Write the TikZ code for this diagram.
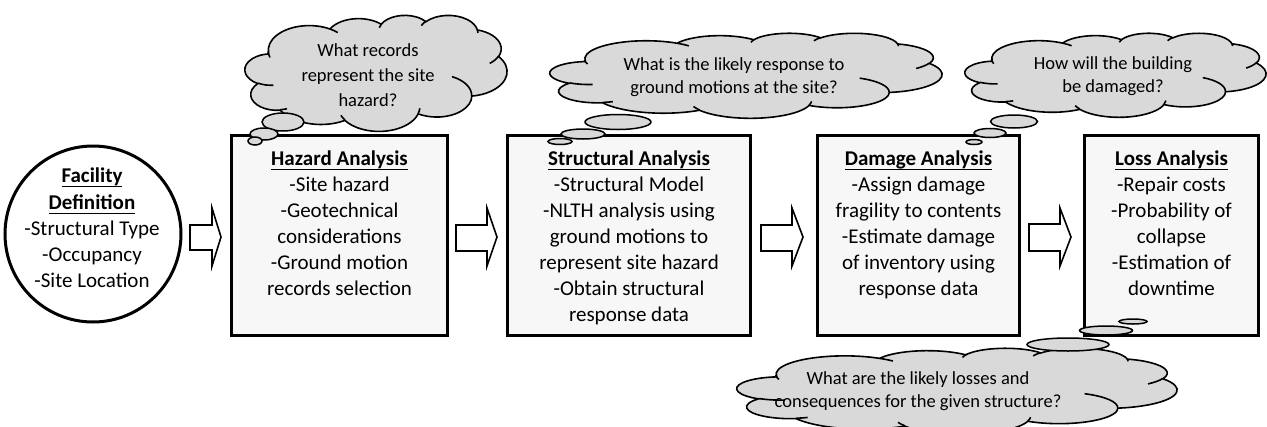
\documentclass[tikz,border=0pt]{standalone}
\usepackage{fontspec}
\setmainfont{Carlito}
\definecolor{cloudgray}{HTML}{D9D9D9}
\definecolor{boxfill}{HTML}{F7F7F7}
% arc given as in DrawingML arcTo (visual angles, degrees)
\newcommand\oa[4]{arc[x radius=#1, y radius=#2, start angle={atan2(#1*sin(#3),#2*cos(#3))}, delta angle={mod(atan2(#1*sin(#3+#4),#2*cos(#3+#4))-atan2(#1*sin(#3),#2*cos(#3))+720,360)}]}
\newcommand\cloudoutline{(3.900,14.370)
 \oa{6.753}{9.190}{-190.4875}{123.7805}
 \oa{5.333}{7.267}{-144.1024}{89.9452}
 \oa{4.365}{5.945}{-145.8079}{99.7230}
 \oa{4.857}{6.595}{-130.9861}{117.2417}
 \oa{5.333}{7.273}{-78.7089}{109.0269}
 \oa{6.775}{9.220}{-46.2673}{130.2690}
 \oa{5.785}{7.867}{0.6250}{114.0333}
 \oa{6.752}{9.215}{22.4516}{115.1726}
 \oa{7.720}{10.543}{66.2426}{75.7110}
 \oa{4.360}{5.918}{-274.9421}{146.7356}
 \oa{4.345}{5.945}{-246.8285}{152.5189} -- cycle}
\newcommand\cloudseams{
 (4.693,26.177) \oa{4.345}{5.945}{86.7420}{26.4295}
 (6.928,34.899) \oa{4.360}{5.918}{73.6105}{11.4475}
 (16.478,39.090) \oa{6.752}{9.215}{137.6242}{14.0811}
 (28.827,34.751) \oa{6.752}{9.215}{6.4533}{15.9984}
 (34.129,22.954) \oa{5.785}{7.867}{-70.2924}{70.9174}
 (41.798,15.354) \oa{5.333}{7.273}{30.3180}{27.7515}
 (38.324,5.426) \oa{4.857}{6.595}{-13.7443}{14.8589}
 (29.078,3.952) \oa{4.857}{6.595}{-149.1815}{18.1954}
 (22.141,4.720) \oa{4.365}{5.945}{-163.4943}{17.6864}
 (14.000,5.192) \oa{6.753}{9.190}{-66.7070}{12.3194}
 (4.127,15.789) \oa{6.753}{9.190}{154.8214}{18.2942}}
\newcommand\ul[1]{\setbox0\hbox{#1}\rlap{\rule[-4.2pt]{\wd0}{1.5pt}}\box0}
\begin{document}
\begin{tikzpicture}[x=1pt,y=1pt,yscale=-1,
  boxnode/.style={draw, line width=3pt, fill=boxfill, inner sep=0pt, rectangle},
  facnode/.style={draw, line width=3pt, fill=white, circle, inner sep=0pt},
  txt/.style={align=center, inner sep=0pt, font=\fontsize{21}{26}\selectfont},
  cloudtxt/.style={align=center, inner sep=0pt, font=\fontsize{18.5}{23}\selectfont},
  cloudline/.style={draw=black, line width=1.6pt},
  bubble/.style={draw=black, line width=1.5pt, fill=cloudgray},
  blockarrow/.style={draw=black, line width=1.6pt, fill=white, line join=miter}]
\useasboundingbox (0,0) rectangle (1267,426);
\clip (0,0) rectangle (1267,426);

% facility circle
\node[facnode, minimum size=176pt] (fac) at (93,234) {};
\node[txt, anchor=north] (factext) at (92,168) {\textbf{\ul{Facility}}\\[1pt]\textbf{\ul{Definition}}\\-Structural Type\\-Occupancy\\-Site Location};

% boxes
\node[boxnode, minimum width=216pt, minimum height=200pt] (haz) at (339.5,235.5) {};
\node[boxnode, minimum width=243pt, minimum height=200pt] (str) at (629,235.5) {};
\node[boxnode, minimum width=202pt, minimum height=200pt] (dam) at (918.5,235.5) {};
\node[boxnode, minimum width=174pt, minimum height=200pt] (los) at (1171.5,235.5) {};

\node[txt, anchor=north] (hazt) at (339.5,151) {\textbf{\ul{Hazard Analysis}}\\-Site hazard\\-Geotechnical\\considerations\\-Ground motion\\records selection};
\node[txt, anchor=north] (strt) at (629,151) {\textbf{\ul{Structural Analysis}}\\-Structural Model\\-NLTH analysis using\\ground motions to\\represent site hazard\\-Obtain structural\\response data};
\node[txt, anchor=north] (damt) at (918.5,151) {\textbf{\ul{Damage Analysis}}\\-Assign damage\\fragility to contents\\-Estimate damage\\of inventory using\\response data};
\node[txt, anchor=north] (lost) at (1171.5,151) {\textbf{\ul{Loss Analysis}}\\-Repair costs\\-Probability of\\collapse\\-Estimation of\\downtime};

% block arrows
\draw[blockarrow] (190,225) -- (212,225) -- (212,208) -- (221,237) -- (212,266) -- (212,250) -- (190,250) -- cycle;
\draw[blockarrow] (456,225) -- (487,225) -- (487,208) -- (497,237) -- (487,266) -- (487,251) -- (456,251) -- cycle;
\draw[blockarrow] (761,225) -- (792,225) -- (792,208) -- (803,237) -- (792,266) -- (792,251) -- (761,251) -- cycle;
\draw[blockarrow] (1029,224) -- (1060,224) -- (1060,208) -- (1071,237) -- (1060,266) -- (1060,251) -- (1029,251) -- cycle;

% cloud 1
\begin{scope}[shift={(245,15)}, xscale=262/43.2, yscale=116/43.2]
 \draw[cloudline, fill=cloudgray] \cloudoutline;
 \draw[cloudline] \cloudseams;
\end{scope}
\draw[bubble] (283,122) ellipse [x radius=21, y radius=9];
\draw[bubble] (264,134) ellipse [x radius=14, y radius=6];
\draw[bubble] (255,141) ellipse [x radius=7, y radius=4];
\node[cloudtxt, font=\fontsize{18.5}{25}\selectfont] (c1t) at (368,75) {What records\\represent the site\\hazard?};

% cloud 2
\begin{scope}[shift={(550,33)}, xscale=392/43.2, yscale=85/43.2]
 \draw[cloudline, fill=cloudgray] \cloudoutline;
 \draw[cloudline] \cloudseams;
\end{scope}
\draw[bubble] (618,122) ellipse [x radius=33, y radius=7.5];
\draw[bubble] (583,134) ellipse [x radius=22, y radius=5];
\draw[bubble] (560,141.5) ellipse [x radius=12, y radius=3];
\node[cloudtxt] (c2t) at (734,77.5) {What is the likely response to\\ground motions at the site?};

% cloud 3
\begin{scope}[shift={(965,33)}, xscale=301/43.2, yscale=84/43.2]
 \draw[cloudline, fill=cloudgray] \cloudoutline;
 \draw[cloudline] \cloudseams;
\end{scope}
\draw[bubble] (1014,121.5) ellipse [x radius=23.5, y radius=6.5];
\draw[bubble] (990,133) ellipse [x radius=16, y radius=4.5];
\draw[bubble] (974,142) ellipse [x radius=8, y radius=2.5];
\node[cloudtxt] (c3t) at (1113,76.5) {How will the building\\be damaged?};

% cloud 4
\begin{scope}[shift={(737,348)}, xscale=440/43.2, yscale=86/43.2]
 \draw[cloudline, fill=cloudgray] \cloudoutline;
 \draw[cloudline] \cloudseams;
\end{scope}
\draw[bubble] (1068,344.5) ellipse [x radius=41, y radius=6.5];
\draw[bubble] (1106,330.5) ellipse [x radius=26.5, y radius=4.5];
\draw[bubble] (1133,321.5) ellipse [x radius=14, y radius=2.5];
\node[cloudtxt] (c4t) at (918,391.5) {What are the likely losses and\\consequences for the given structure?};
\end{tikzpicture}
\end{document}
